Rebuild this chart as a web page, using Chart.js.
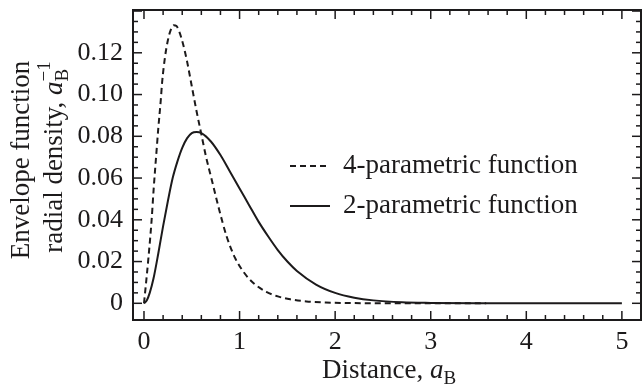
<!DOCTYPE html>
<html>
<head>
<meta charset="utf-8">
<script src="https://cdn.jsdelivr.net/npm/chart.js@4.4.1/dist/chart.umd.min.js"></script>
<style>
  html, body { margin: 0; padding: 0; background: #fff; }
</style>
</head>
<body>
<canvas id="chart" width="643" height="389"></canvas>
<script>
// -------------- DATA ------------------

const seriesLabels = ["4-parametric function", "2-parametric function"];

// 4-parametric (dashed)
const fourParamX = [0, 0.02, 0.045, 0.08, 0.1, 0.133, 0.15, 0.175, 0.19, 0.22, 0.25, 0.28, 0.31, 0.34, 0.37, 0.41, 0.45, 0.5, 0.55, 0.6, 0.65, 0.71, 0.78, 0.865, 0.95, 1.05, 1.15, 1.28, 1.4, 1.53, 1.7, 1.9, 2.2, 2.6, 3.0, 3.58];
const fourParamY = [0, 0.009, 0.021, 0.040, 0.054, 0.074, 0.084, 0.097, 0.106, 0.118, 0.126, 0.131, 0.1332, 0.1328, 0.130, 0.124, 0.116, 0.104, 0.092, 0.081, 0.070, 0.059, 0.046, 0.032, 0.022, 0.0145, 0.0095, 0.0055, 0.0033, 0.0019, 0.0009, 0.0004, 0.0001, 0, 0, 0];

// 2-parametric (solid)
const twoParamX = [0, 0.03, 0.06, 0.1, 0.15, 0.2, 0.25, 0.3, 0.35, 0.4, 0.45, 0.5, 0.55, 0.6, 0.7, 0.8, 0.9, 1.0, 1.1, 1.2, 1.3, 1.4, 1.5, 1.6, 1.8, 2.0, 2.2, 2.4, 2.7, 3.0, 3.5, 4.0, 5.0];
const twoParamY = [0, 0.0015, 0.005, 0.012, 0.024, 0.037, 0.049, 0.060, 0.068, 0.0745, 0.079, 0.0815, 0.082, 0.0815, 0.0775, 0.071, 0.063, 0.055, 0.047, 0.039, 0.032, 0.0255, 0.020, 0.0155, 0.009, 0.005, 0.0027, 0.0014, 0.0005, 0.0002, 0, 0, 0];

const xTickValues = [0, 1, 2, 3, 4, 5];
const yTickValues = [0, 0.02, 0.04, 0.06, 0.08, 0.10, 0.12];


const INK = "#1c1a1b";
const FONT = '"Liberation Serif", "Times New Roman", serif';


// -------------- HELPERS ------------------

// draws text made of parts: {t, i} normal/italic, or {sub, sup} stacked
function drawRich(ctx, parts, x, y) {
    const big = 27, small = 19;
    let total = 0;
    parts.forEach(p => {
        if (p.t !== undefined) {
            ctx.font = (p.i ? "italic " : "") + big + "px " + FONT;
            p.w = ctx.measureText(p.t).width;
        } else {
            ctx.font = small + "px " + FONT;
            p.w = Math.max(ctx.measureText(p.sub || "").width, ctx.measureText(p.sup || "").width);
        }
        total += p.w;
    });
    let cx = x - total / 2;
    ctx.textAlign = "left";
    ctx.textBaseline = "alphabetic";
    parts.forEach(p => {
        if (p.t !== undefined) {
            ctx.font = (p.i ? "italic " : "") + big + "px " + FONT;
            ctx.fillText(p.t, cx, y);
        } else {
            ctx.font = small + "px " + FONT;
            if (p.sub) ctx.fillText(p.sub, cx, y + 6);
            if (p.sup) ctx.fillText(p.sup, cx, y - 12);
        }
        cx += p.w;
    });
}

function seg(ctx, x1, y1, x2, y2) {
    ctx.beginPath();
    ctx.moveTo(x1, y1);
    ctx.lineTo(x2, y2);
    ctx.stroke();
}


// -------------- PLUGIN: frame, ticks, titles, legend ------------------

const decorations = {
    id: "decorations",
    afterDraw(chart) {
        const { ctx, chartArea: a, scales: { x, y } } = chart;
        ctx.save();
        ctx.strokeStyle = INK;
        ctx.fillStyle = INK;

        // ticks inside, on all four sides
        ctx.lineWidth = 1.5;
        for (let i = 0; i <= 25; i++) {
            const px = x.getPixelForValue(i * 0.2);
            const len = i % 5 === 0 ? 9 : 5;
            seg(ctx, px, a.bottom, px, a.bottom - len);
            seg(ctx, px, a.top, px, a.top + len);
        }
        for (let i = 0; i * 0.005 <= y.max; i++) {
            const py = y.getPixelForValue(i * 0.005);
            const len = i % 4 === 0 ? 9 : 5;
            seg(ctx, a.left, py, a.left + len, py);
            seg(ctx, a.right, py, a.right - len, py);
        }

        // frame
        ctx.lineWidth = 2;
        ctx.strokeRect(a.left, a.top, a.right - a.left, a.bottom - a.top);

        // x title
        drawRich(ctx, [{ t: "Distance, " }, { t: "a", i: true }, { sub: "B" }], (a.left + a.right) / 2 + 2, 378);

        // y title (two lines, rotated)
        ctx.save();
        ctx.translate(29, 160);
        ctx.rotate(-Math.PI / 2);
        drawRich(ctx, [{ t: "Envelope function" }], 0, 0);
        ctx.restore();
        ctx.save();
        ctx.translate(62, 157);
        ctx.rotate(-Math.PI / 2);
        drawRich(ctx, [{ t: "radial density, " }, { t: "a", i: true }, { sub: "B", sup: "\u22121" }], 0, 0);
        ctx.restore();

        // legend
        const rows = [166, 206];
        chart.data.datasets.forEach((ds, i) => {
            ctx.lineWidth = ds.borderWidth;
            ctx.setLineDash(ds.borderDash || []);
            seg(ctx, 290, rows[i], 330, rows[i]);
            ctx.setLineDash([]);
            ctx.font = "27px " + FONT;
            ctx.textAlign = "left";
            ctx.textBaseline = "middle";
            ctx.fillText(ds.label, 343, rows[i]);
        });

        ctx.restore();
    },
};


// ------------ CREATE CHART ------------------

const toPoints = (xs, ys) => xs.map((v, i) => ({ x: v, y: ys[i] }));

new Chart(document.getElementById("chart"), {
    type: "line",
    data: {
        datasets: [
            {
                label: seriesLabels[0],
                data: toPoints(fourParamX, fourParamY),
                borderColor: INK,
                borderWidth: 2,
                borderDash: [6, 4],
                pointRadius: 0,
                cubicInterpolationMode: "monotone",
                fill: false,
            },
            {
                label: seriesLabels[1],
                data: toPoints(twoParamX, twoParamY),
                borderColor: INK,
                borderWidth: 2,
                pointRadius: 0,
                cubicInterpolationMode: "monotone",
                fill: false,
            },
        ],
    },
    options: {
        responsive: false,
        animation: false,
        devicePixelRatio: 1,
        layout: { padding: { top: 10, right: 2, left: 0, bottom: 0 } },
        plugins: {
            legend: { display: false },
            tooltip: { enabled: false },
        },
        scales: {
            x: {
                type: "linear",
                min: -0.115,
                max: 5.2,
                grid: { display: false, drawTicks: false },
                border: { display: false },
                ticks: {
                    padding: 7,
                    color: INK,
                    font: { family: FONT, size: 26 },
                    maxRotation: 0,
                    autoSkip: false,
                    callback: v => String(v),
                },
                afterBuildTicks: s => { s.ticks = xTickValues.map(v => ({ value: v })); },
                afterFit: s => {
                    s.height = 69;
                    s.paddingLeft = 0;
                    s.paddingRight = 0;
                },
            },
            y: {
                type: "linear",
                min: -0.008,
                max: 0.1405,
                grid: { display: false, drawTicks: false },
                border: { display: false },
                ticks: {
                    padding: 10,
                    color: INK,
                    font: { family: FONT, size: 26 },
                    autoSkip: false,
                    callback: v => (v === 0 ? "0" : v.toFixed(2)),
                },
                afterBuildTicks: s => { s.ticks = yTickValues.map(v => ({ value: v })); },
                afterFit: s => {
                    s.width = 133;
                    s.paddingTop = 0;
                    s.paddingBottom = 0;
                },
            },
        },
    },
    plugins: [decorations],
});
</script>
</body>
</html>
